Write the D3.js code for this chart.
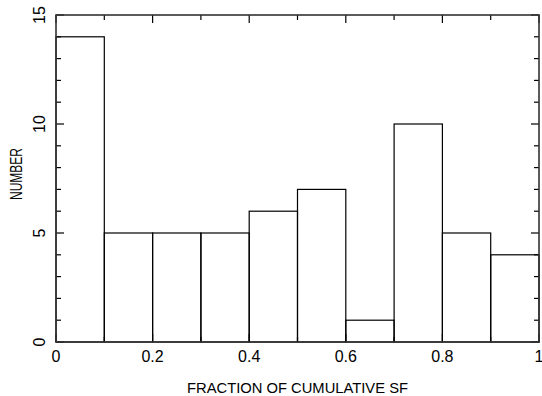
<!DOCTYPE html>
<html>
<head>
<meta charset="utf-8">
<script src="https://cdn.jsdelivr.net/npm/d3@7"></script>
<style>
  body { margin: 0; background: #fff; }
  text { font-family: "Liberation Sans", Arial, sans-serif; fill: #000; }
</style>
</head>
<body>
<div id="chart"></div>
<script>
// histogram bins (fraction of cumulative SF) and counts
const binEdges = [0, 0.1, 0.2, 0.3, 0.4, 0.5, 0.6, 0.7, 0.8, 0.9, 1.0];
const counts = [14, 5, 5, 5, 6, 7, 1, 10, 5, 4];
const xTickLabels = [0, 0.2, 0.4, 0.6, 0.8, 1];
const yTickLabels = [0, 5, 10, 15];

const width = 542, height = 396;
const margin = {top: 15, right: 3, bottom: 54, left: 56};
const innerW = width - margin.left - margin.right;
const innerH = height - margin.top - margin.bottom;

const svg = d3.select('#chart').append('svg')
    .attr('width', width).attr('height', height);
const g = svg.append('g').attr('transform', `translate(${margin.left},${margin.top})`);

const x = d3.scaleLinear().domain([0, 1]).range([0, innerW]);
const y = d3.scaleLinear().domain([0, 15]).range([innerH, 0]);

const bins = counts.map((c, i) => ({x0: binEdges[i], x1: binEdges[i + 1], n: c}));

// histogram as step outline
g.append('g').selectAll('rect')
    .data(bins)
    .enter().append('rect')
        .attr('x', d => x(d.x0))
        .attr('y', d => y(d.n))
        .attr('width', d => x(d.x1) - x(d.x0))
        .attr('height', d => y(0) - y(d.n))
        .attr('fill', 'none')
        .attr('stroke', '#000')
        .attr('stroke-width', 1.2);

// inward ticks on all four sides
const xMinor = d3.range(0, 1.0001, 0.1);
const yMinor = d3.range(0, 15.0001, 1);
const isMajorX = v => Math.abs(v * 5 - Math.round(v * 5)) < 1e-6;
const isMajorY = v => v % 5 === 0;

const ticks = g.append('g').attr('stroke', '#000').attr('stroke-width', 1.2);
xMinor.forEach(v => {
    const len = isMajorX(v) ? 8 : 5;
    ticks.append('line').attr('x1', x(v)).attr('x2', x(v)).attr('y1', innerH).attr('y2', innerH - len);
    ticks.append('line').attr('x1', x(v)).attr('x2', x(v)).attr('y1', 0).attr('y2', len);
});
yMinor.forEach(v => {
    const len = isMajorY(v) ? 8 : 5;
    ticks.append('line').attr('y1', y(v)).attr('y2', y(v)).attr('x1', 0).attr('x2', len);
    ticks.append('line').attr('y1', y(v)).attr('y2', y(v)).attr('x1', innerW).attr('x2', innerW - len);
});

// frame
g.append('rect')
    .attr('x', 0).attr('y', 0).attr('width', innerW).attr('height', innerH)
    .attr('fill', 'none').attr('stroke', '#333').attr('stroke-width', 1.6);

// tick labels
g.append('g').selectAll('text')
    .data(xTickLabels)
    .enter().append('text')
        .attr('x', d => x(d))
        .attr('y', innerH + 20)
        .attr('text-anchor', 'middle')
        .style('font-size', '16px')
        .text(d => d);

g.append('g').selectAll('text')
    .data(yTickLabels)
    .enter().append('text')
        .attr('transform', d => `translate(-11,${y(d)}) rotate(-90)`)
        .attr('text-anchor', 'middle')
        .style('font-size', '16px')
        .text(d => d);

// axis titles
svg.append('text')
    .attr('x', 187)
    .attr('y', 393)
    .attr('textLength', 221)
    .attr('lengthAdjust', 'spacingAndGlyphs')
    .style('font-size', '15px')
    .text('FRACTION OF CUMULATIVE SF');

svg.append('text')
    .attr('transform', `translate(22,200) rotate(-90)`)
    .attr('textLength', 52)
    .attr('lengthAdjust', 'spacingAndGlyphs')
    .style('font-size', '16px')
    .text('NUMBER');
</script>
</body>
</html>
